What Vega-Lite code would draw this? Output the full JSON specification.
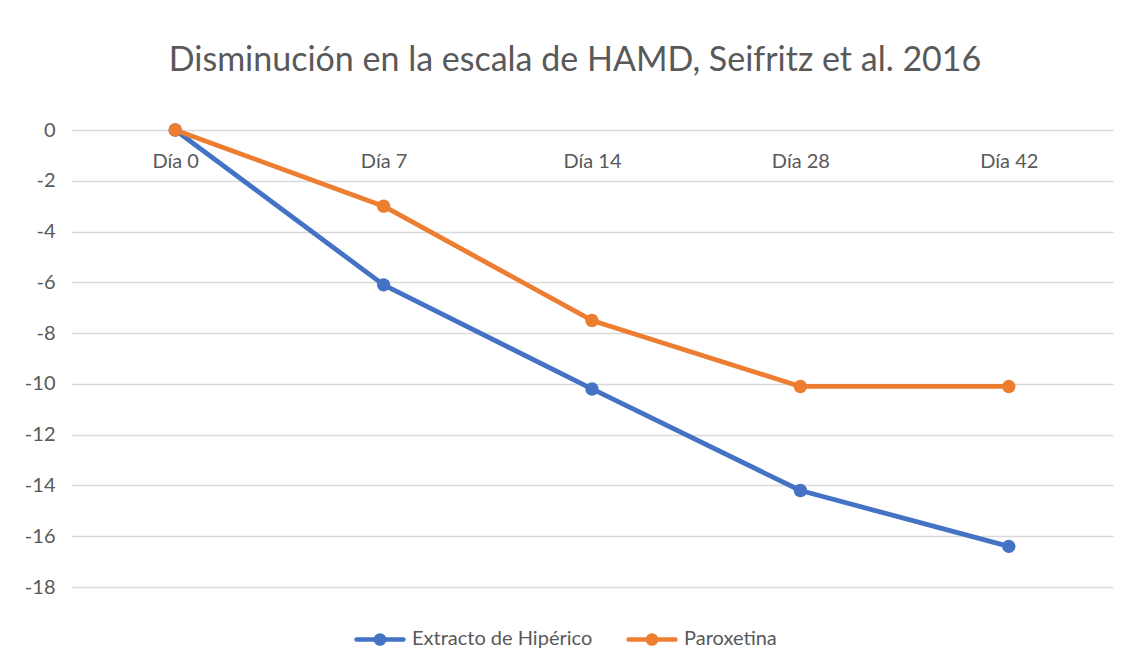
{
  "$schema": "https://vega.github.io/schema/vega-lite/v6.json",
  "autosize": {"type": "none"},
  "width": 1042,
  "height": 457,
  "padding": {"left": 71, "top": 130, "right": 17, "bottom": 81},
  "background": "white",
  "title": {
    "text": "Disminución en la escala de HAMD, Seifritz et al. 2016",
    "anchor": "middle",
    "frame": "group",
    "dx": -17,
    "offset": 15,
    "baseline": "alphabetic",
    "font": "Lato",
    "fontSize": 34,
    "fontWeight": "normal",
    "color": "#595959"
  },
  "data": {
    "values": [
      {"dia": "Día 0", "serie": "Extracto de Hipérico", "valor": 0},
      {"dia": "Día 7", "serie": "Extracto de Hipérico", "valor": -6.1},
      {"dia": "Día 14", "serie": "Extracto de Hipérico", "valor": -10.2},
      {"dia": "Día 28", "serie": "Extracto de Hipérico", "valor": -14.2},
      {"dia": "Día 42", "serie": "Extracto de Hipérico", "valor": -16.4},
      {"dia": "Día 0", "serie": "Paroxetina", "valor": 0},
      {"dia": "Día 7", "serie": "Paroxetina", "valor": -3.0},
      {"dia": "Día 14", "serie": "Paroxetina", "valor": -7.5},
      {"dia": "Día 28", "serie": "Paroxetina", "valor": -10.1},
      {"dia": "Día 42", "serie": "Paroxetina", "valor": -10.1}
    ]
  },
  "encoding": {
    "x": {
      "field": "dia",
      "type": "ordinal",
      "sort": ["Día 0", "Día 7", "Día 14", "Día 28", "Día 42"],
      "axis": {
        "title": null,
        "orient": "bottom",
        "offset": -457,
        "domain": false,
        "ticks": false,
        "labelAngle": 0,
        "labelPadding": 21,
        "labelFont": "Lato",
        "labelFontSize": 20,
        "labelColor": "#595959"
      }
    },
    "y": {
      "field": "valor",
      "type": "quantitative",
      "scale": {"domain": [-18, 0], "nice": false, "zero": false},
      "axis": {
        "title": null,
        "values": [-18, -16, -14, -12, -10, -8, -6, -4, -2, 0],
        "labelExpr": "'' + datum.value",
        "domain": false,
        "ticks": false,
        "grid": true,
        "gridColor": "#d9d9d9",
        "gridWidth": 1.3,
        "labelPadding": 16,
        "labelFont": "Lato",
        "labelFontSize": 20,
        "labelColor": "#595959"
      }
    },
    "color": {
      "field": "serie",
      "type": "nominal",
      "scale": {"domain": ["Extracto de Hipérico", "Paroxetina"], "range": ["#4472C4", "#ED7D31"]},
      "legend": {
        "title": null,
        "orient": "none",
        "direction": "horizontal",
        "legendX": 281,
        "legendY": 481,
        "symbolType": "M-0.92,0 L0.92,0 M-0.16,0 A0.16,0.16 0 1,1 0.16,0 A0.16,0.16 0 1,1 -0.16,0 Z",
        "symbolSize": 2601,
        "labelOffset": 4,
        "labelLimit": 400,
        "columnPadding": 26,
        "labelFont": "Lato",
        "labelFontSize": 20,
        "labelColor": "#595959",
        "encode": {
          "symbols": {
            "update": {
              "fill": {"scale": "color", "field": "value"},
              "stroke": {"scale": "color", "field": "value"},
              "strokeWidth": {"value": 4.5},
              "strokeCap": {"value": "round"},
              "opacity": {"value": 1}
            }
          }
        }
      }
    }
  },
  "layer": [
    {"mark": {"type": "line", "strokeWidth": 4.8, "strokeCap": "round", "strokeJoin": "round"}},
    {"mark": {"type": "point", "filled": true, "size": 180, "opacity": 1}}
  ],
  "config": {"view": {"stroke": null}}
}
